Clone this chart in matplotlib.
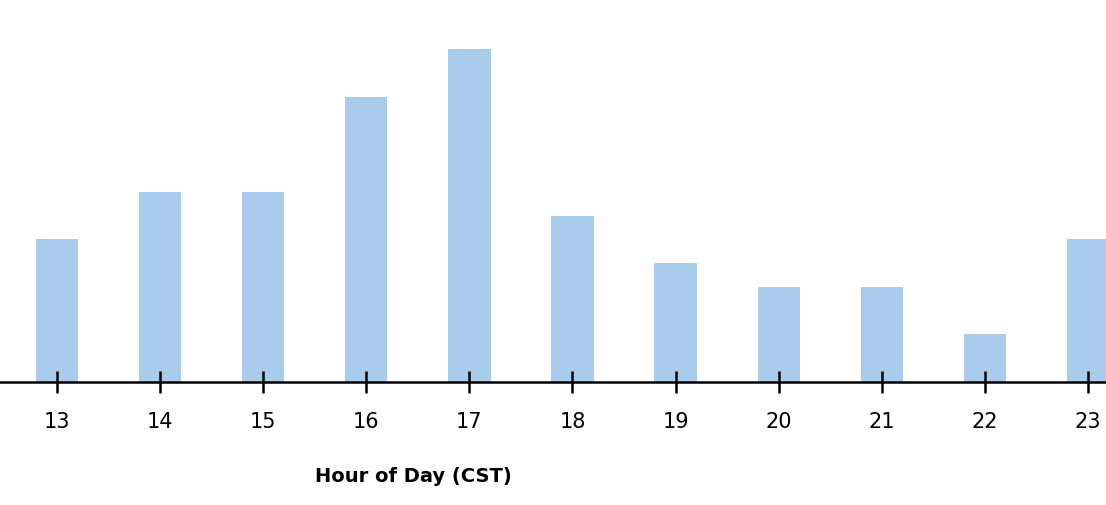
import matplotlib
matplotlib.use("Agg")
import matplotlib.pyplot as plt

hours = [13, 14, 15, 16, 17, 18, 19, 20, 21, 22, 23]
counts = [3, 4, 4, 6, 7, 3.5, 2.5, 2, 2, 1, 3]

fig = plt.figure(figsize=(11.06, 5.06), dpi=100)
ax = fig.add_axes([0, 0.243, 1, 0.757])
ax.bar(hours, counts, width=0.41, color="#a9cbec", zorder=1)
ax.set_xlim(12.447, 23.175)
ax.set_ylim(0, 8.05)
for s in ["top", "right", "left"]:
    ax.spines[s].set_visible(False)
ax.spines["bottom"].set_linewidth(1.8)
ax.spines["bottom"].set_zorder(3)
ax.set_yticks([])
ax.set_xticks(hours)
ax.tick_params(axis="x", direction="inout", length=16, width=1.8, labelsize=15, pad=13)
ax.set_xlabel("Hour of Day (CST)", fontsize=14, fontweight="bold")
ax.xaxis.set_label_coords(413 / 1106, -0.22)
fig.savefig("out.png", dpi=100)
